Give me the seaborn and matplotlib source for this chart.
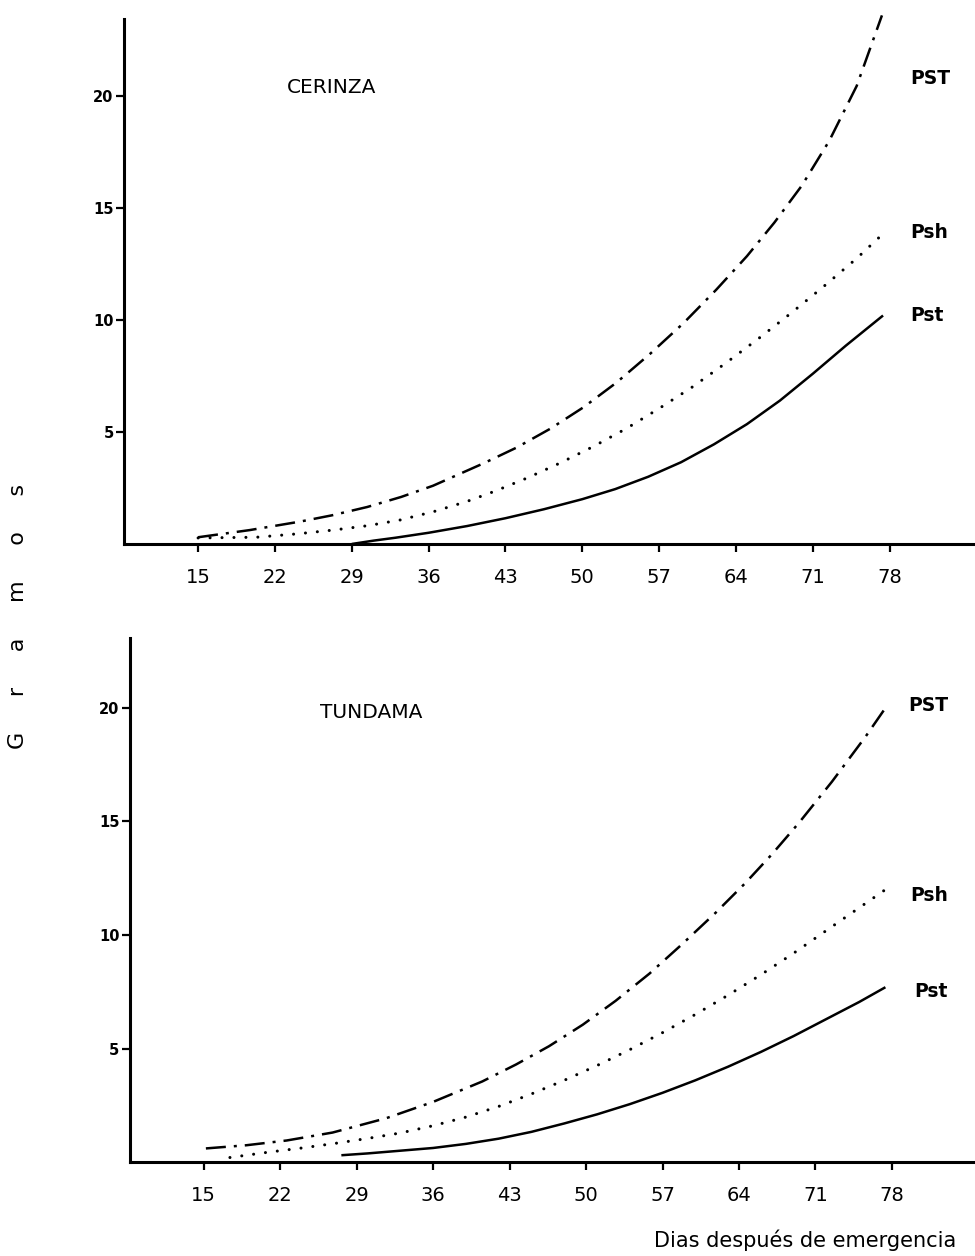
import matplotlib
matplotlib.use("Agg")
import matplotlib.pyplot as plt
import pandas as pd
import seaborn as sns

# ---------------- data ----------------
x_ticks = [15, 22, 29, 36, 43, 50, 57, 64, 71, 78]
y_ticks = [5, 10, 15, 20]

# CERINZA (top panel)
cer_pst_big_days = [15, 19.7, 24.3, 27.2, 30.4, 33.5, 36.4, 41.0, 44.0, 47.1, 50.1,
                    53.1, 56.2, 59.2, 62.2, 65.0, 67.5, 70.0, 72.5, 75.0, 77.3]
cer_pst_big = [0.3, 0.62, 1.0, 1.28, 1.65, 2.1, 2.6, 3.6, 4.3, 5.15, 6.1,
               7.2, 8.5, 9.85, 11.35, 12.85, 14.35, 16.0, 18.0, 20.45, 23.6]
cer_psh_days = [15, 20.3, 24.0, 27.3, 30.5, 33.4, 36.5, 39.5, 42, 45, 48, 51,
                54, 57, 60, 63, 66, 69, 72, 75, 77.4]
cer_psh = [0.27, 0.3, 0.45, 0.62, 0.82, 1.07, 1.45, 1.9, 2.35, 2.95, 3.62, 4.35,
           5.15, 6.05, 7.0, 8.05, 9.15, 10.3, 11.5, 12.75, 13.85]
cer_pst_days = [29, 31, 33, 36, 39.5, 43, 46.5, 50, 53, 56, 59, 62, 65, 68, 71, 74, 77.4]
cer_pst = [0.0, 0.15, 0.28, 0.5, 0.8, 1.15, 1.55, 2.0, 2.45, 3.0, 3.65, 4.45,
           5.35, 6.4, 7.6, 8.85, 10.2]

# TUNDAMA (bottom panel)
tun_pst_big_days = [15.2, 18.9, 22.6, 26.8, 31.7, 36.0, 40.5, 43.6, 46.6, 49.7, 52.7,
                    55.8, 58.8, 61.9, 64.6, 67.0, 69.5, 72.5, 75.6, 77.4]
tun_pst_big = [0.6, 0.74, 0.95, 1.3, 1.93, 2.65, 3.55, 4.3, 5.1, 6.05, 7.1,
               8.3, 9.6, 11.0, 12.3, 13.55, 14.95, 16.75, 18.75, 20.0]
tun_psh_days = [17.4, 20.7, 24, 27, 30, 33, 36, 39, 42, 45, 48, 51, 54, 57,
                60, 63, 66, 69, 72, 75, 77.4]
tun_psh = [0.2, 0.42, 0.62, 0.82, 1.04, 1.28, 1.6, 1.98, 2.45, 3.0, 3.6, 4.25,
           4.95, 5.7, 6.5, 7.35, 8.25, 9.2, 10.2, 11.2, 12.0]
tun_pst_days = [27.6, 30, 33, 36, 39, 42, 45, 48, 51, 54, 57, 60, 63, 66, 69,
                72, 75, 77.4]
tun_pst = [0.3, 0.38, 0.5, 0.62, 0.8, 1.03, 1.33, 1.7, 2.1, 2.55, 3.05, 3.6,
           4.2, 4.85, 5.55, 6.3, 7.05, 7.7]

series_names = ["PST", "Psh", "Pst"]

# ---------------- style ----------------
sns.set_style("ticks")
plt.rcParams["font.family"] = ["DejaVu Sans"]

fig = plt.figure(figsize=(9.75, 12.56), dpi=100)
ax_top = fig.add_axes([0.1272, 0.5669, 0.8708, 0.418])
ax_bot = fig.add_axes([0.1333, 0.0748, 0.8667, 0.4172])

line_styles = {
    "PST": dict(linestyle=(0, (8, 3.2, 1.2, 3.2)), linewidth=1.8, dash_capstyle="butt"),
    "Psh": dict(linestyle=(0, (0.01, 3.9)), linewidth=2.2, dash_capstyle="round"),
    "Pst": dict(linestyle="-", linewidth=1.8, solid_capstyle="butt"),
}


def draw_panel(ax, data, ymax, title, title_pos, label_pos):
    for name in series_names:
        days, vals = data[name]
        df = pd.DataFrame({"dia": days, "gramos": vals})
        sns.lineplot(data=df, x="dia", y="gramos", ax=ax, color="black",
                     estimator=None, legend=False, **line_styles[name])
    for ln in ax.lines:
        ln.set_clip_on(False)
        ln.set_solid_joinstyle("round")
        ln.set_dash_joinstyle("round")
    ax.set_xlim(8.25, 85.6)
    ax.set_ylim(0, ymax)
    ax.set_xticks(x_ticks)
    ax.set_xticklabels([str(t) for t in x_ticks])
    ax.set_yticks(y_ticks)
    ax.set_yticklabels([str(t) for t in y_ticks], fontweight="bold")
    ax.set_xlabel("")
    ax.set_ylabel("")
    sns.despine(ax=ax)
    for sp in ("left", "bottom"):
        ax.spines[sp].set_linewidth(2.2)
        ax.spines[sp].set_color("black")
    ax.tick_params(axis="x", direction="out", length=6, width=1.6, pad=11,
                   labelsize=14, colors="black")
    ax.tick_params(axis="y", direction="out", length=5.5, width=1.6, pad=2,
                   labelsize=10.5, colors="black")
    ax.text(title_pos[0], title_pos[1], title, fontsize=14.5, ha="left",
            va="center", color="black")
    for name in series_names:
        lx, ly = label_pos[name]
        ax.text(lx, ly, name, fontsize=13.5, fontweight="bold", ha="left",
                va="center", color="black")


draw_panel(ax_top,
           {"PST": (cer_pst_big_days, cer_pst_big),
            "Psh": (cer_psh_days, cer_psh),
            "Pst": (cer_pst_days, cer_pst)},
           23.44, "CERINZA", (23.1, 20.4),
           {"PST": (79.85, 20.8), "Psh": (79.85, 13.9), "Pst": (79.85, 10.2)})

draw_panel(ax_bot,
           {"PST": (tun_pst_big_days, tun_pst_big),
            "Psh": (tun_psh_days, tun_psh),
            "Pst": (tun_pst_days, tun_pst)},
           23.08, "TUNDAMA", (25.6, 19.8),
           {"PST": (79.5, 20.1), "Psh": (79.7, 11.76), "Pst": (80.0, 7.53)})

fig.text(0.0185, 1 - 616 / 1256, "G     r     a     m     o     s",
         rotation=90, ha="center", va="center", fontsize=16, color="black")
fig.text(805 / 975, 1 - 1240 / 1256, "Dias después de emergencia",
         ha="center", va="center", fontsize=15, color="black")

fig.savefig("out.png", dpi=100, facecolor="white")
